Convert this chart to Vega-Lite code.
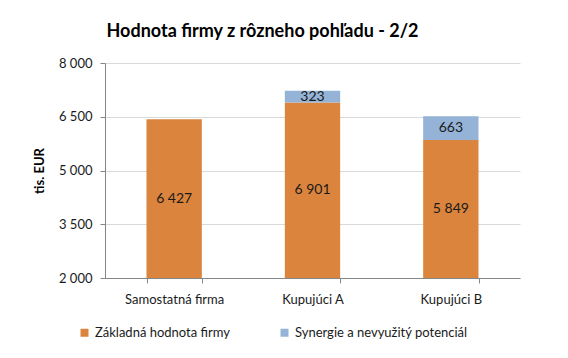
{
  "$schema": "https://vega.github.io/schema/vega-lite/v6.json",
  "width": 415,
  "height": 215,
  "autosize": {"type": "none"},
  "padding": {"left": 105, "top": 63, "right": 48, "bottom": 80},
  "background": "white",
  "config": {"view": {"stroke": null}},
  "title": {
    "text": "Hodnota firmy z rôzneho pohľadu - 2/2",
    "font": "Lato",
    "fontSize": 18,
    "fontWeight": "bold",
    "color": "#000000",
    "anchor": "middle",
    "dx": -50,
    "offset": 16
  },
  "data": {
    "values": [
      {"kategoria": "Samostatná firma", "seria": "Základná hodnota firmy", "hodnota": 6427, "poradie": 1},
      {"kategoria": "Kupujúci A", "seria": "Základná hodnota firmy", "hodnota": 6901, "poradie": 1},
      {"kategoria": "Kupujúci A", "seria": "Synergie a nevyužitý potenciál", "hodnota": 323, "poradie": 2},
      {"kategoria": "Kupujúci B", "seria": "Základná hodnota firmy", "hodnota": 5849, "poradie": 1},
      {"kategoria": "Kupujúci B", "seria": "Synergie a nevyužitý potenciál", "hodnota": 663, "poradie": 2}
    ]
  },
  "transform": [
    {"stack": "hodnota", "groupby": ["kategoria"], "sort": [{"field": "poradie"}], "as": ["y0", "y1"]},
    {"calculate": "(max(datum.y0, 2000) + datum.y1) / 2", "as": "ymid"},
    {"calculate": "replace(format(datum.hodnota, ','), ',', ' ')", "as": "label"}
  ],
  "encoding": {
    "x": {
      "field": "kategoria",
      "type": "nominal",
      "sort": ["Samostatná firma", "Kupujúci A", "Kupujúci B"],
      "scale": {"paddingInner": 0.6, "paddingOuter": 0.3},
      "axis": {
        "title": null,
        "labelAngle": 0,
        "labelFont": "Lato",
        "labelFontSize": 13,
        "labelColor": "#1a1a1a",
        "labelPadding": 10,
        "tickBand": "extent",
        "tickSize": 5,
        "tickColor": "#868686",
        "domainColor": "#868686",
        "grid": false
      }
    }
  },
  "layer": [
    {
      "mark": {"type": "bar", "clip": true},
      "encoding": {
        "y": {
          "field": "y0",
          "type": "quantitative",
          "scale": {"domain": [2000, 8000], "nice": false, "zero": false},
          "axis": {
            "title": "tis. EUR",
            "titleFont": "Lato",
            "titleFontSize": 13,
            "titleFontWeight": "bold",
            "titleColor": "#000000",
            "titlePadding": 12,
            "values": [2000, 3500, 5000, 6500, 8000],
            "labelExpr": "replace(format(datum.value, ','), ',', ' ')",
            "labelFont": "Lato",
            "labelFontSize": 13,
            "labelColor": "#1a1a1a",
            "labelPadding": 8,
            "tickSize": 5,
            "tickColor": "#868686",
            "domainColor": "#868686",
            "gridColor": "#d9d9d9"
          }
        },
        "y2": {"field": "y1"},
        "color": {
          "field": "seria",
          "type": "nominal",
          "scale": {
            "domain": ["Základná hodnota firmy", "Synergie a nevyužitý potenciál"],
            "range": ["#db843d", "#95b3d7"]
          },
          "legend": {
            "title": null,
            "orient": "none",
            "direction": "horizontal",
            "legendX": -27,
            "legendY": 263,
            "symbolType": "square",
            "symbolSize": 64,
            "symbolStrokeWidth": 0,
            "labelFont": "Lato",
            "labelFontSize": 13,
            "labelColor": "#1a1a1a",
            "labelLimit": 0,
            "columnPadding": 48,
            "labelOffset": 4
          }
        }
      }
    },
    {
      "mark": {"type": "text", "font": "Lato", "fontSize": 14, "color": "#1a1a1a", "baseline": "middle"},
      "encoding": {
        "y": {"field": "ymid", "type": "quantitative"},
        "text": {"field": "label"}
      }
    }
  ]
}
